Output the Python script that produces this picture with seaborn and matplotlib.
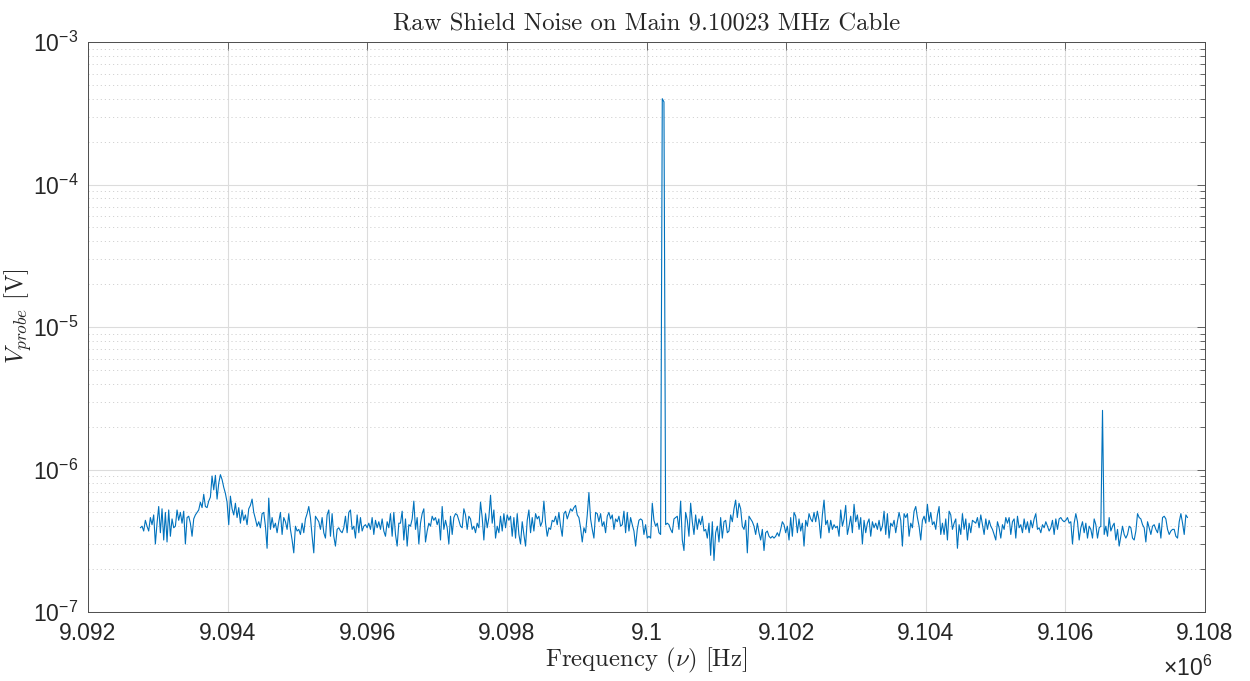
import numpy as np
import pandas as pd
import matplotlib
matplotlib.use("Agg")
import matplotlib.pyplot as plt
import matplotlib.ticker as ticker
import seaborn as sns

# frequency span of the sweep [Hz]
f_start = 9.09275e6
f_stop = 9.10775e6

# probe voltage, in units of 1e-7 V left to right
v_seg1 = [3.9, 4.0, 3.7, 4.4, 4.0, 3.7, 4.6, 4.1, 4.8, 3.0,
          4.2, 5.5, 3.6, 5.3, 3.2, 5.0, 3.1, 5.2, 3.4, 4.5,
          3.9, 4.0, 5.2, 4.4, 5.0, 4.2, 5.1, 3.0, 4.6, 4.7,
          4.2, 3.4, 4.5, 4.8, 5.0, 5.2, 5.9, 5.4, 6.7, 5.5,
          5.4, 6.0, 6.4, 9.0, 7.2, 9.1, 6.2, 8.0, 9.2, 8.5,
          7.5, 6.8, 5.9, 4.1, 6.5, 5.3, 4.8, 5.8, 4.6, 5.4,
          4.2, 5.2, 4.4, 4.8, 4.1, 5.3, 5.6, 6.2, 5.0, 4.5,
          4.0, 4.3, 3.9, 4.9, 5.0, 4.0, 2.8, 6.3, 3.8, 4.6,
          3.9, 4.2, 3.6, 4.3, 5.0, 3.5, 4.6, 4.3, 3.8, 4.9,
          3.8, 3.2, 2.6, 4.0, 3.7, 3.8, 3.5, 4.2, 3.6, 4.5,
          4.9, 5.5, 4.6, 3.4, 2.6, 4.7, 4.5, 4.3, 3.8, 4.6,
          3.6, 3.3, 4.8, 5.2, 3.4, 4.9, 3.4, 2.9, 3.8, 3.9,
          3.7, 3.6, 3.9, 4.7, 3.6, 5.0, 5.2, 3.8, 4.0, 3.3,
          4.8, 3.6, 4.6, 3.7, 4.0, 4.1, 3.9, 4.2, 3.8, 4.6,
          3.5, 4.4, 3.9, 4.3, 3.8, 4.5, 3.7, 3.4, 4.3, 3.9,
          4.9, 3.4, 5.0, 3.5, 2.9, 4.2]
v_seg2 = [4.2, 5.1, 3.2, 4.5, 2.9, 4.1, 4.0, 4.5, 6.0, 3.8,
          4.6, 3.0, 4.2, 4.9, 5.3, 3.1, 3.7, 4.2, 4.0, 4.7,
          4.4, 4.6, 4.1, 4.5, 3.2, 5.5, 3.8, 4.4, 3.9, 3.0,
          4.7, 3.5, 4.6, 4.9, 4.8, 4.4, 4.0, 3.9, 5.3, 4.8,
          3.8, 4.7, 4.5, 3.8, 4.0, 3.6, 4.2, 3.9, 5.9, 4.6,
          3.2, 4.9, 3.9, 4.6, 6.6, 4.2, 5.2, 3.3, 4.0, 3.6,
          4.7, 3.7, 4.9, 3.9, 4.8, 4.4, 4.7, 3.4, 4.6, 3.3,
          4.9, 3.5, 3.0, 4.3, 3.5, 2.9, 4.4, 5.2, 3.6, 4.6,
          3.7, 4.9, 4.5, 4.7, 4.0, 4.3, 6.0, 4.2, 3.4, 3.9,
          3.8, 4.4, 4.3, 4.7, 4.1, 5.0, 4.0, 3.4, 4.9, 5.1,
          4.5, 4.9, 5.3, 5.1, 5.4, 5.6, 4.8, 4.6, 3.9, 3.1,
          3.9, 3.6, 4.8, 6.9, 4.5, 3.8, 3.3, 5.0, 4.9, 4.3,
          4.9, 4.0, 4.3, 3.6, 4.7, 5.0, 4.5, 4.8, 3.8, 4.5,
          4.3, 4.7, 4.0, 4.1, 5.1, 3.6, 5.0, 3.7, 4.6, 4.1,
          3.7, 2.9, 3.8, 4.4, 4.5, 4.4, 3.5, 4.1, 3.3, 3.4,
          3.3, 5.8, 4.4, 4.0, 4.2, 3.6]
v_seg3 = [3.5, 4000.0, 3800.0, 4.1, 4.2, 4.1, 3.8, 3.6, 4.5, 4.6,
          4.7, 3.8, 6.0, 3.2, 2.7, 5.0, 4.4, 3.4, 5.8, 4.3,
          3.5, 4.8, 3.8, 4.5, 4.1, 4.7, 3.7, 3.8, 3.3, 4.2,
          2.5, 4.3, 2.3, 3.6, 4.0, 3.1, 4.6, 3.3, 4.3, 4.4,
          3.6, 3.7, 4.8, 4.3, 5.3, 6.1, 4.6, 5.8, 5.3, 4.0,
          3.8, 4.4, 2.6, 4.7, 4.5, 4.3, 4.0, 3.5, 4.2, 3.6,
          3.2, 3.8, 2.7, 3.6, 3.7, 3.4, 3.3, 3.4, 3.3, 3.4,
          3.6, 3.4, 3.8, 4.3, 4.1, 3.6, 4.0, 3.2, 4.6, 3.4,
          5.0, 4.7, 3.6, 4.5, 3.7, 4.2, 2.9, 4.4, 4.0, 4.9,
          4.5, 4.3, 5.0, 4.3, 5.1, 4.4, 3.3, 4.8, 6.1, 4.1,
          4.4, 3.6, 4.4, 3.8, 4.1, 3.9, 4.0, 3.4, 5.2, 4.0,
          4.5, 5.6, 3.5, 4.0, 4.7, 3.6, 5.7, 4.3, 4.8, 3.8,
          4.6, 3.0, 4.4, 3.6, 4.2, 4.5, 3.4, 4.3, 3.9, 4.2,
          3.8, 4.4, 3.7, 4.0, 5.1, 3.5, 4.9, 3.3, 4.2, 4.0,
          4.4, 3.6, 4.3, 5.0, 4.4, 2.9, 4.9, 4.6, 4.9, 3.4,
          4.2, 3.9, 5.1, 5.5, 4.6, 4.0]
v_seg4 = [3.2, 4.4, 4.7, 4.2, 5.7, 4.3, 5.0, 4.1, 4.3, 3.8,
          4.8, 5.5, 3.5, 4.2, 3.5, 4.5, 3.2, 5.1, 4.8, 3.8,
          4.2, 4.5, 2.8, 4.1, 3.5, 4.9, 3.8, 4.5, 3.2, 4.2,
          3.6, 4.4, 4.3, 4.2, 4.6, 3.9, 4.8, 4.1, 3.5, 4.5,
          3.8, 4.4, 4.0, 3.8, 3.5, 3.2, 4.3, 3.9, 3.3, 4.1,
          3.8, 4.6, 4.2, 4.6, 3.5, 4.3, 4.5, 3.3, 4.7, 3.9,
          4.1, 3.6, 4.5, 3.8, 4.3, 3.6, 4.4, 3.9, 4.5, 4.9,
          3.8, 3.9, 3.6, 4.1, 3.9, 4.3, 4.0, 3.7, 3.9, 4.4,
          3.5, 4.5, 3.8, 4.5, 4.6, 4.4, 4.3, 4.4, 4.6, 4.2,
          4.3, 3.0, 4.2, 4.9, 4.3, 3.2, 3.9, 4.3, 3.6, 4.2,
          3.3, 4.0, 3.8, 3.3, 4.5, 4.1, 3.3, 3.9, 4.0, 26.0,
          3.5, 4.0, 3.4, 4.6, 3.7, 4.0, 4.2, 3.2, 3.8, 2.9,
          3.4, 4.0, 3.5, 3.3, 3.5, 4.0, 3.9, 3.3, 3.2, 3.7,
          4.9, 4.6, 4.5, 4.1, 3.9, 3.1, 4.3, 3.9, 3.5, 4.0,
          4.1, 3.8, 3.6, 4.2, 3.3, 4.6, 4.7, 4.5, 3.8, 3.5,
          3.7, 3.8, 3.8, 3.4, 3.3, 4.3, 4.9, 4.2, 3.5, 4.8, 4.6]

x_ticks = [9.092e6, 9.094e6, 9.096e6, 9.098e6, 9.100e6,
           9.102e6, 9.104e6, 9.106e6, 9.108e6]
y_ticks = [1e-7, 1e-6, 1e-5, 1e-4, 1e-3]

v_probe = np.array(v_seg1 + v_seg2 + v_seg3 + v_seg4) * 1e-7
freq = np.linspace(f_start, f_stop, len(v_probe))
df = pd.DataFrame({"freq": freq, "v": v_probe})

sns.set_theme(style="white")
plt.rcParams["font.family"] = ["Liberation Sans", "DejaVu Sans"]
plt.rcParams["mathtext.fontset"] = "cm"

fig = plt.figure(figsize=(12.5, 6.81), dpi=100)
ax = fig.add_axes([88 / 1250, 1 - 612 / 681, (1205 - 88) / 1250, (612 - 42) / 681])

sns.lineplot(data=df, x="freq", y="v", ax=ax, color="#0072BD",
             linewidth=0.8, estimator=None, sort=False)

ax.set_yscale("log")
ax.set_xlim(9.092e6, 9.108e6)
ax.set_ylim(1e-7, 1e-3)

ax.set_xticks(x_ticks)
ax.xaxis.set_major_formatter(ticker.FuncFormatter(lambda v, p: f"{v / 1e6:g}"))
ax.xaxis.set_minor_locator(ticker.NullLocator())
ax.set_yticks(y_ticks)
ax.yaxis.set_major_formatter(ticker.FuncFormatter(
    lambda v, p: r"$\mathregular{10^{%d}}$" % int(round(np.log10(v)))))
ax.yaxis.set_minor_locator(ticker.LogLocator(base=10, subs=np.arange(2, 10), numticks=20))
ax.yaxis.set_minor_formatter(ticker.NullFormatter())

ax.grid(True, which="major", axis="both", color="#dcdcdc", linewidth=0.8, linestyle="-")
ax.grid(True, which="minor", axis="y", color="#d2d2d2", linewidth=0.7, linestyle=(0, (1.2, 3)))
ax.set_axisbelow(True)

for s in ax.spines.values():
    s.set_color("#4d4d4d")
    s.set_linewidth(0.7)
ax.tick_params(which="both", direction="in", top=True, right=True, colors="#4d4d4d",
               labelcolor="#262626", width=0.6)
ax.tick_params(which="major", length=6, labelsize=16.5, pad=7)
ax.tick_params(which="minor", length=3.5)

ax.set_title("Raw Shield Noise on Main 9.10023 MHz Cable", fontfamily="cmr10",
             fontsize=17.8, color="#262626", pad=8)
ax.set_xlabel(r"Frequency $(\nu)$ [Hz]", fontfamily="cmr10", fontsize=17.8,
              color="#262626", labelpad=1)
ax.set_ylabel(r"$V_{probe}$ [V]", fontfamily="cmr10", fontsize=17.8,
              color="#262626")
ax.yaxis.set_label_coords(-0.048, 0.52)
fig.text(1212 / 1250, 1 - 676 / 681, r"$\mathregular{\times10^{6}}$", ha="right",
         va="baseline", fontsize=16.5, color="#262626")

fig.savefig("out.png", dpi=100)
